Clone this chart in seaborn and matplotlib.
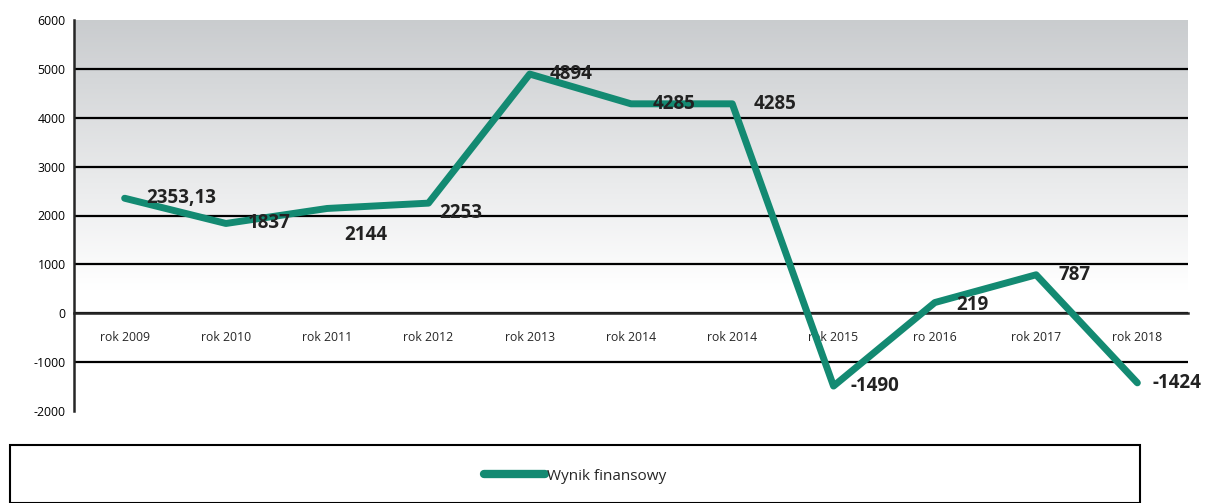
import matplotlib
matplotlib.use("Agg")
import matplotlib.pyplot as plt
import matplotlib.patches as mpatches
import numpy as np
import seaborn as sns

# data
categories = ["rok 2009", "rok 2010", "rok 2011", "rok 2012", "rok 2013", "rok 2014",
              "rok 2014", "rok 2015", "ro 2016", "rok 2017", "rok 2018"]
values = [2353.13, 1837, 2144, 2253, 4894, 4285, 4285, -1490, 219, 787, -1424]
value_labels = ["2353,13", "1837", "2144", "2253", "4894", "4285", "4285",
                "-1490", "219", "787", "-1424"]
# label offsets in pixels (dx, dy)
label_offsets = [(22, 0), (22, 0), (17, -27), (11, -10), (20, 0), (22, 0), (21, 0),
                 (17, 0), (21, -2), (22, 0), (15, 0)]

sns.set_style("white")
plt.rcParams['font.family'] = ['Open Sans', 'DejaVu Sans']
plt.rcParams['axes.unicode_minus'] = False

fig = plt.figure(figsize=(12.08, 5.03), dpi=100)
ax = fig.add_axes([74/1208, 1-411/503, (1188-74)/1208, (411-20)/503])

n = len(categories)
x = np.arange(n)

# grey gradient background
top = np.array([0.79, 0.80, 0.81])
white = np.array([1.0, 1.0, 1.0])
frac = np.clip((np.linspace(6000, -2000, 256) - 500) / 5500, 0, 1)
img = (white + (top - white) * frac[:, None]).reshape(256, 1, 3)
ax.imshow(img, extent=(-0.5, n - 0.5, -2000, 6000), aspect="auto", zorder=0)

# grid lines
for yv in range(-1000, 6000, 1000):
    ax.axhline(yv, color="black", lw=1.6, zorder=1)

sns.lineplot(x=x, y=values, ax=ax, color="#138a72", lw=5, zorder=3,
             label="Wynik finansowy", legend=False)

for xi, v, lab, (dx, dy) in zip(x, values, value_labels, label_offsets):
    ax.annotate(lab, (xi, v), xytext=(dx, dy), textcoords="offset pixels",
                ha="left", va="center", fontsize=13.5, fontweight="bold",
                color="#222222", zorder=4)

ax.set_xlim(-0.5, n - 0.5)
ax.set_ylim(-2000, 6000)
ax.set_yticks(range(-2000, 6001, 1000))
ax.tick_params(axis="y", labelsize=8.8, length=4, width=1.5, direction="out",
               colors="black", pad=2)

# x axis crosses at zero
ax.spines["bottom"].set_position(("data", 0))
ax.spines["bottom"].set_linewidth(1.8)
ax.spines["left"].set_linewidth(1.8)
ax.spines["top"].set_visible(False)
ax.spines["right"].set_visible(False)
ax.set_xticks(x)
ax.set_xticklabels(categories)
ax.set_xticks(np.arange(-0.5, n, 1), minor=True)
ax.tick_params(axis="x", which="major", length=0, labelsize=8.8, pad=13)
ax.tick_params(axis="x", which="minor", length=4, width=1.5, direction="out")

# legend box
rect = mpatches.Rectangle((10/1208, 0), 1130/1208, (503-445)/503,
                          transform=fig.transFigure, fill=False,
                          edgecolor="black", lw=1.5)
fig.patches.append(rect)
handle = plt.Line2D([], [], color="#138a72", lw=6)
fig.legend([handle], ["Wynik finansowy"], loc="center",
           bbox_to_anchor=(575/1208, 1-476/503), frameon=False,
           fontsize=11, handlelength=4, handletextpad=0.1)

fig.savefig("out.png", dpi=100)
